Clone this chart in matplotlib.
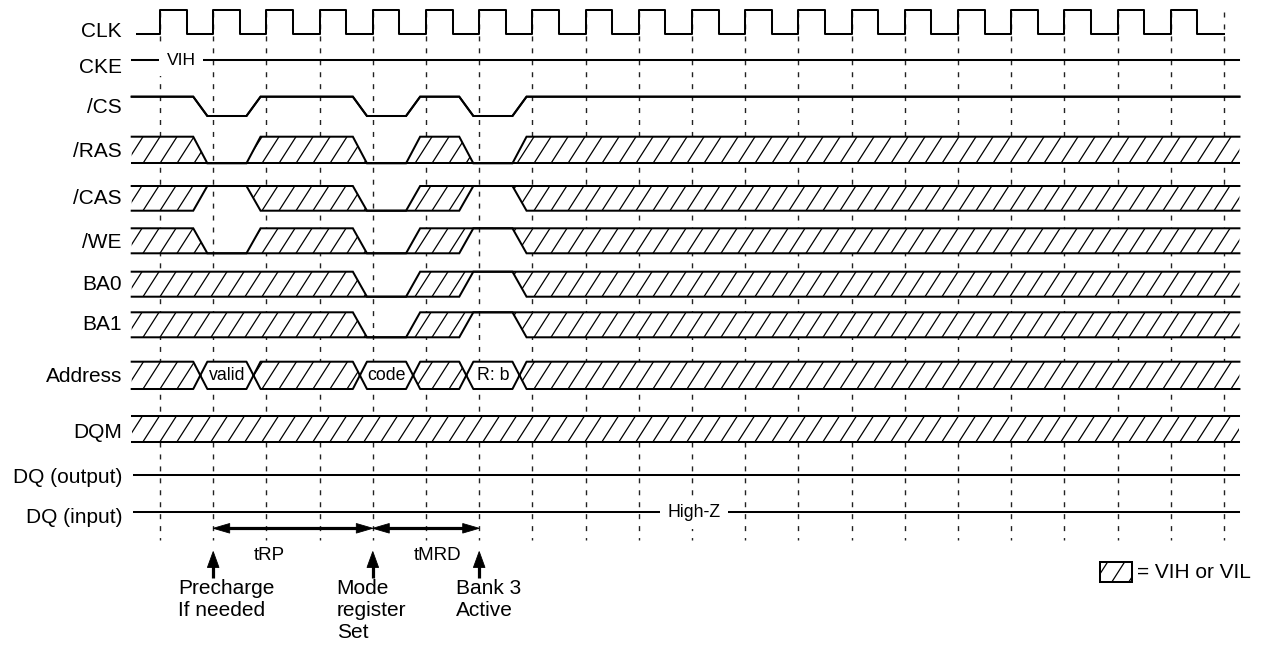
import matplotlib
matplotlib.use('Agg')
import matplotlib.pyplot as plt
from matplotlib.patches import Polygon, Rectangle
from matplotlib.collections import LineCollection
import numpy as np

plt.rcParams['font.family'] = ['Liberation Sans', 'DejaVu Sans']
plt.rcParams['lines.scale_dashes'] = False

# ---------------- data ----------------
n_cycles = 20
signal_names = ['CLK', 'CKE', '/CS', '/RAS', '/CAS', '/WE', 'BA0', 'BA1',
                'Address', 'DQM', 'DQ (output)', 'DQ (input)']
# state at each rising clock edge 0..20  (H = high, L = low, X = VIH or VIL)
cke_states = ['H'] * 21
cs_states = ['H', 'L', 'H', 'H', 'L', 'H', 'L'] + ['H'] * 14
ras_states = ['X', 'L', 'X', 'X', 'L', 'X', 'L'] + ['X'] * 14
cas_states = ['X', 'H', 'X', 'X', 'L', 'X', 'H'] + ['X'] * 14
we_states = ['X', 'L', 'X', 'X', 'L', 'X', 'H'] + ['X'] * 14
ba0_states = ['X', 'X', 'X', 'X', 'L', 'X', 'H'] + ['X'] * 14
ba1_states = ['X', 'X', 'X', 'X', 'L', 'X', 'H'] + ['X'] * 14
address_states = ['X', 'valid', 'X', 'X', 'code', 'X', 'R: b'] + ['X'] * 14
dqm_states = ['X'] * 21
cke_note = 'VIH'
dq_note = 'High-Z'
timing_names = ['tRP', 'tMRD']
timing_spans = [(1, 4), (4, 6)]
event_edges = [1, 4, 6]
event_labels = ['Precharge\nIf needed', 'Mode\nregister\nSet', 'Bank 3\nActive']
legend_text = '= VIH or VIL'

# ---------------- layout ----------------
W, H = 1261, 651
PX0, PER = 160.0, 53.2           # pixel of edge 0, clock period in px
T_START, T_END = -0.532, 20.29   # signal extent in clock periods
TA, TB = 0.375, 0.11             # transition window before each edge
lanes = {                        # (top, bottom) pixel rows
    'CLK': (10, 34), 'CKE': (60, 60), '/CS': (96.7, 116), '/RAS': (136.7, 163.3),
    '/CAS': (186, 210.7), '/WE': (228.3, 253.3), 'BA0': (271.7, 296.7),
    'BA1': (312.3, 337.3), 'Address': (361.7, 389), 'DQM': (415.7, 441.7),
    'DQ (output)': (475, 475), 'DQ (input)': (511.7, 511.7)}
label_base = {'CLK': 37, 'CKE': 73, '/CS': 113, '/RAS': 157, '/CAS': 204, '/WE': 248,
              'BA0': 290, 'BA1': 330, 'Address': 381.5, 'DQM': 438,
              'DQ (output)': 483, 'DQ (input)': 523}
FS = 15
FS_SMALL = 12.8
LW = 1.45


def px2t(px):
    return (px - PX0) / PER


fig = plt.figure(figsize=(W / 100, H / 100), dpi=100)
ax = fig.add_axes([0, 0, 1, 1])
ax.set_xlim(px2t(0), px2t(W))
ax.set_ylim(H, 0)
ax.axis('off')

HATCH_SP = 17.0 / PER
HATCH_SLOPE = 0.64 / PER   # t per px of height


def hatch_patch(verts, edge=False):
    poly = Polygon(verts, closed=True, fc='white', ec='black' if edge else 'none',
                   lw=LW, zorder=2)
    ax.add_patch(poly)
    v = np.array(verts)
    xmin, xmax = v[:, 0].min(), v[:, 0].max()
    ymin, ymax = v[:, 1].min(), v[:, 1].max()
    dx = HATCH_SLOPE * (ymax - ymin)
    start = np.floor((xmin - dx) / HATCH_SP) * HATCH_SP
    xs = np.arange(start, xmax + HATCH_SP, HATCH_SP)
    segs = [[(x, ymax), (x + dx, ymin)] for x in xs]
    lc = LineCollection(segs, colors='black', lw=0.9, zorder=3)
    lc.set_clip_path(poly)
    ax.add_collection(lc)


# dashed clock-edge guides
for k in range(n_cycles + 1):
    ax.plot([k, k], [12, 540], color='#222222', lw=1.0,
            linestyle=(0, (3.6, 5.0)), zorder=1)

# CLK
ct, cb = lanes['CLK']
xs, ys = [px2t(136.5)], [cb]
for k in range(n_cycles):
    xs += [k, k, k + 0.5, k + 0.5]
    ys += [cb, ct, ct, cb]
xs.append(n_cycles)
ys.append(cb)
ax.plot(xs, ys, color='black', lw=LW, zorder=4)


def binary_signal(name, states):
    top, bot = lanes[name]
    yt = lambda s: top if s in 'HX' else bot
    yb = lambda s: bot if s in 'LX' else top
    tx, ty, bx, by = [T_START], [yt(states[0])], [T_START], [yb(states[0])]
    for k in range(1, len(states)):
        if states[k] != states[k - 1]:
            a, b = k - TA, k - TB
            tx += [a, b]; ty += [yt(states[k - 1]), yt(states[k])]
            bx += [a, b]; by += [yb(states[k - 1]), yb(states[k])]
    tx.append(T_END); ty.append(yt(states[-1]))
    bx.append(T_END); by.append(yb(states[-1]))
    if 'X' in states:
        verts = list(zip(tx, ty)) + list(zip(bx, by))[::-1]
        hatch_patch(verts)
    ax.plot(tx, ty, color='black', lw=LW, zorder=4, solid_joinstyle='miter')
    ax.plot(bx, by, color='black', lw=LW, zorder=4, solid_joinstyle='miter')


def bus_signal(name, states):
    top, bot = lanes[name]
    mid = (top + bot) / 2
    bounds = [None]
    for k in range(1, len(states)):
        if states[k] != states[k - 1]:
            bounds.append(k)
    bounds.append(None)
    vals = [states[0]] + [states[b] for b in bounds[1:-1]]
    for i, val in enumerate(vals):
        lb, rb = bounds[i], bounds[i + 1]
        tpath, bpath = [], []
        if lb is None:
            tpath.append((T_START, top)); bpath.append((T_START, bot))
        else:
            m = lb - (TA + TB) / 2
            tpath += [(m, mid), (lb - TB, top)]
            bpath += [(m, mid), (lb - TB, bot)]
        if rb is None:
            tpath.append((T_END, top)); bpath.append((T_END, bot))
        else:
            m = rb - (TA + TB) / 2
            tpath += [(rb - TA, top), (m, mid)]
            bpath += [(rb - TA, bot), (m, mid)]
        verts = tpath + bpath[::-1]
        if val == 'X':
            hatch_patch(verts)
        else:
            ax.add_patch(Polygon(verts, closed=True, fc='white', ec='none', zorder=2))
            lm = (tpath[0][0] + tpath[-1][0]) / 2
            ax.text(lm, mid + 0.5, val, ha='center', va='center', fontsize=FS_SMALL, zorder=5)
        ax.plot(*zip(*tpath), color='black', lw=LW, zorder=4)
        ax.plot(*zip(*bpath), color='black', lw=LW, zorder=4)


binary_signal('CKE', cke_states)
binary_signal('/CS', cs_states)
binary_signal('/RAS', ras_states)
binary_signal('/CAS', cas_states)
binary_signal('/WE', we_states)
binary_signal('BA0', ba0_states)
binary_signal('BA1', ba1_states)
bus_signal('Address', address_states)
binary_signal('DQM', dqm_states)

# DQ lines
for nm in ['DQ (output)', 'DQ (input)']:
    y = lanes[nm][0]
    ax.plot([px2t(134), T_END], [y, y], color='black', lw=LW, zorder=4)

ax.text(px2t(181), lanes['CKE'][0] + 0.5, cke_note, ha='center', va='center',
        fontsize=12.5, zorder=5, bbox=dict(fc='white', ec='none', pad=5.5))
ax.text(px2t(694), lanes['DQ (input)'][0] + 1, dq_note, ha='center', va='center',
        fontsize=FS_SMALL, zorder=5, bbox=dict(fc='white', ec='none', pad=5.5))

# signal labels
for nm in signal_names:
    ax.text(px2t(122), label_base[nm], nm, ha='right', va='baseline', fontsize=FS)


def arrow_head(tip_x, tip_y, dx, dy, length_px, half_px):
    """filled triangular head; (dx, dy) unit direction in pixel space."""
    bx = tip_x - dx * length_px / PER
    by = tip_y - dy * length_px
    px_, py_ = -dy, dx
    verts = [(tip_x, tip_y),
             (bx + px_ * half_px / PER, by + py_ * half_px),
             (bx - px_ * half_px / PER, by - py_ * half_px)]
    ax.add_patch(Polygon(verts, closed=True, fc='black', ec='black', lw=0.6, zorder=5))


# timing arrows
ARROW_Y = 528.3
HEAD_L, HEAD_HW, SHAFT_LW = 16.5, 4.8, 2.3
for (a, b) in timing_spans:
    ax.plot([a + 10 / PER, b - 10 / PER], [ARROW_Y, ARROW_Y], color='black',
            lw=SHAFT_LW, solid_capstyle='butt', zorder=5)
    arrow_head(a, ARROW_Y, -1, 0, HEAD_L, HEAD_HW)
    arrow_head(b, ARROW_Y, 1, 0, HEAD_L, HEAD_HW)
timing_label_px = [(269, 556), (437.5, 555)]
for nm, (lx, ly) in zip(timing_names, timing_label_px):
    ax.text(px2t(lx), ly, nm, ha='center', va='center', fontsize=13.5)

# event arrows & labels
UP_TIP, UP_END = 551.5, 577.5
event_label_left = [178.3, 336.7, 456]
for k, lab, lx in zip(event_edges, event_labels, event_label_left):
    ax.plot([k, k], [UP_END, UP_TIP + 10], color='black', lw=SHAFT_LW,
            solid_capstyle='butt', zorder=5)
    arrow_head(k, UP_TIP, 0, -1, 16, 5.8)
    ax.text(px2t(lx), 579, lab, ha='left', va='top', fontsize=FS, linespacing=1.2)

# legend
lx0, ly0, lw_, lh_ = 1100, 561.7, 31.7, 20
hatch_patch([(px2t(lx0), ly0), (px2t(lx0 + lw_), ly0), (px2t(lx0 + lw_), ly0 + lh_),
             (px2t(lx0), ly0 + lh_)], edge=True)
ax.text(px2t(1137), 578.5, legend_text, ha='left', va='baseline', fontsize=FS)

fig.savefig('out.png', dpi=100)
